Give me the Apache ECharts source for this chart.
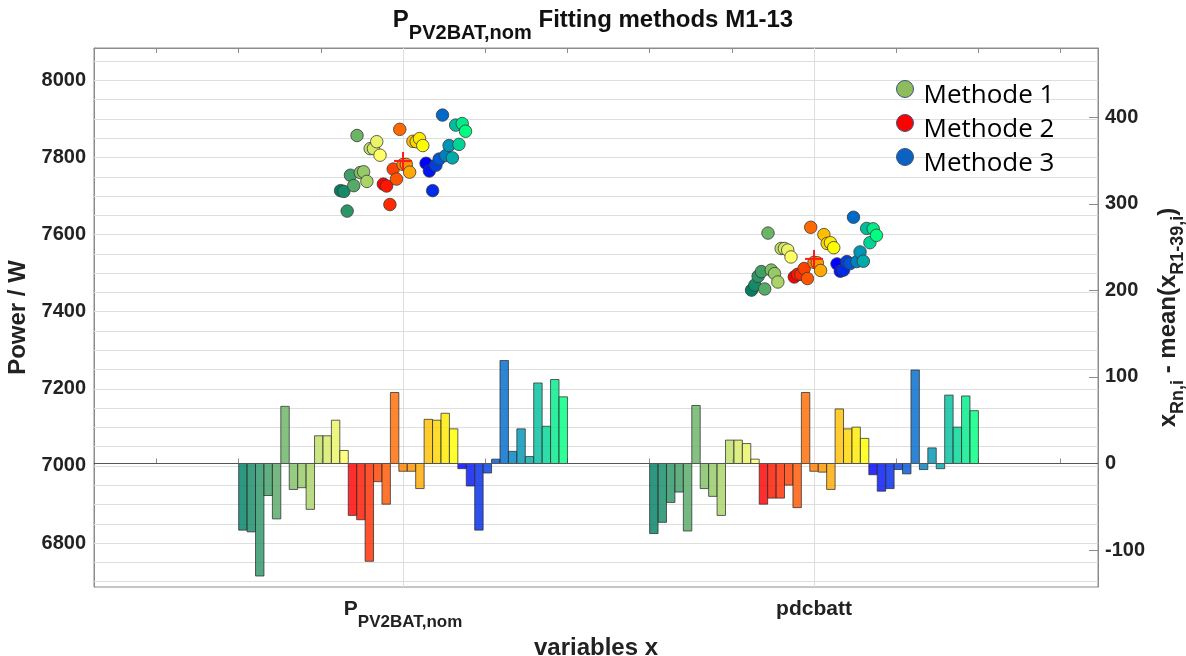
<!DOCTYPE html>
<html><head><meta charset="utf-8">
<script src="https://cdn.jsdelivr.net/npm/echarts@6/dist/echarts.min.js"></script>
<style>html,body{margin:0;padding:0;background:#fff}#c{width:1186px;height:656px}</style>
</head><body><div id="c"></div>
<script>
// ---------------- data ----------------
const categories = ['P_PV2BAT,nom', 'pdcbatt'];
const methodNames = ['Methode 1', 'Methode 2', 'Methode 3'];
// mean over runs R1-39 (left axis, W)
const meanPower = [7791, 7537];
// deviation of each run from the mean (right axis), runs 1-13 method 1, 14-26 method 2, 27-39 method 3
const devPV2BAT = [-77, -79, -130, -37, -64, 66, -30, -28, -53, 32, 32, 50, 15,
                   -60, -65, -113, -21, -47, 82, -9, -9, -29, 51, 50, 58, 40,
                   -6, -26, -77, -11, 5, 119, 14, 40, 8, 93, 43, 97, 77];
const devPdcbatt = [-81, -68, -45, -33, -78, 67, -29, -38, -60, 27, 27, 23, 5,
                    -47, -40, -40, -25, -51, 82, -9, -10, -30, 63, 40, 42, 29,
                    -13, -32, -29, -7, -12, 108, -7, 18, -6, 79, 42, 78, 61];
const leftTicks = [6800, 7000, 7200, 7400, 7600, 7800, 8000];
const leftMinorTicks = [6700, 6750, 6800, 6850, 6900, 6950, 7000, 7050, 7100, 7150, 7200, 7250, 7300, 7350,
                        7400, 7450, 7500, 7550, 7600, 7650, 7700, 7750, 7800, 7850, 7900, 7950, 8000, 8050];
const rightTicks = [-100, 0, 100, 200, 300, 400];
const xTicks = [0.4, 0.6, 0.8, 1.0, 1.2, 1.4, 1.6, 1.8, 2.0, 2.2, 2.4, 2.6];
const xLabelPos = [1, 2];

// ---------------- styling helpers ----------------
const devs = [devPV2BAT, devPdcbatt];
const N = devPV2BAT.length;           // 39 runs
const BAR_W = 0.8 / N;
const PT_STEP = 0.008;
function cmap(i) {
  const m = Math.floor(i / 13), t = (i % 13) / 12;
  let c;
  if (m === 0) c = [t, 0.5 + 0.5 * t, 0.4];        // summer
  else if (m === 1) c = [1, t, 0];                 // autumn
  else c = [0, t, 1 - 0.5 * t];                    // winter
  return c.map(v => Math.round(v * 255));
}
function rgba(i, a) { const c = cmap(i); return 'rgba(' + c[0] + ',' + c[1] + ',' + c[2] + ',' + a + ')'; }

const FONT = 'Liberation Sans, Arial, sans-serif';
const AX = '#8c8c8c';

// bars
const barData = [];
devs.forEach((d, g) => d.forEach((v, i) => barData.push([g + 1 - 0.4 + (i + 0.5) * BAR_W, v, i])));

// scatter series per method
const scatterSeries = methodNames.map((name, m) => {
  const data = [];
  devs.forEach((d, g) => {
    for (let k = 0; k < 13; k++) {
      const i = m * 13 + k;
      data.push({ value: [g + 1 + (i - 19) * PT_STEP, meanPower[g] + d[i]], itemStyle: { color: rgba(i, 1) } });
    }
  });
  return {
    name: name, type: 'scatter', xAxisIndex: 0, yAxisIndex: 0, data: data,
    symbolSize: 12.5, z: 4,
    itemStyle: { borderColor: '#3a3a3a', borderWidth: 0.8, opacity: 1 }
  };
});

const legendColors = ['#8fbc5a', '#ff0000', '#0c62c0'];

const chart = echarts.init(document.getElementById('c'), null, { renderer: 'canvas' });
chart.setOption({
  animation: false,
  backgroundColor: '#fff',
  title: {
    text: '{p|P}{s|PV2BAT,nom}{p| Fitting methods M1-13}',
    left: 'center', top: 8, padding: 0,
    textStyle: {
      rich: {
        p: { fontFamily: FONT, fontSize: 24, fontWeight: 'bold', color: '#111', lineHeight: 26, verticalAlign: 'top' },
        s: { fontFamily: FONT, fontSize: 20, fontWeight: 'bold', color: '#111', lineHeight: 20, padding: [15, 0, 0, 0], verticalAlign: 'top' }
      }
    }
  },
  legend: methodNames.map((n, m) => ({
    data: [{ name: n, itemStyle: { color: legendColors[m], borderColor: '#3a557e', borderWidth: 1 } }],
    left: 896, top: 69 + 34 * m, orient: 'vertical', padding: 0,
    itemWidth: 17, itemHeight: 17, icon: 'circle', selectedMode: false,
    formatter: s => '{t|' + s + '}',
    textStyle: {
      rich: { t: { fontFamily: 'Open Sans', fontSize: 26, color: '#000', lineHeight: 26, padding: [14, 0, 0, 5] } }
    }
  })),
  grid: { left: 94, right: 88, top: 48, bottom: 69, show: true, borderColor: AX, borderWidth: 1, backgroundColor: '#fff', outerBoundsMode: 'none', containLabel: false },
  xAxis: [
    {
      type: 'value', min: 0.248, max: 2.691, position: 'bottom',
      axisLine: { show: true, lineStyle: { color: AX } },
      axisTick: { show: true, inside: true, length: 5, customValues: xTicks, lineStyle: { color: AX } },
      splitLine: { show: false },
      axisLabel: {
        customValues: xLabelPos, margin: 12,
        formatter: v => (Math.round(v) === 1 ? '{p|P}{s|PV2BAT,nom}' : '{p|' + categories[1] + '}'),
        rich: {
          p: { fontFamily: FONT, fontSize: 21, fontWeight: 'bold', color: '#222', lineHeight: 22, verticalAlign: 'top' },
          s: { fontFamily: FONT, fontSize: 17, fontWeight: 'bold', color: '#222', lineHeight: 17, padding: [15, 0, 0, 0], verticalAlign: 'top' }
        }
      },
      name: 'variables x', nameLocation: 'middle', nameGap: 46,
      nameTextStyle: { fontFamily: FONT, fontSize: 24, fontWeight: 'bold', color: '#222' }
    },
    {
      type: 'value', min: 0.248, max: 2.691, position: 'top',
      axisLine: { show: true, lineStyle: { color: AX } },
      axisTick: { show: true, inside: true, length: 5, customValues: xTicks, lineStyle: { color: AX } },
      axisLabel: { show: false }, splitLine: { show: false }
    }
  ],
  yAxis: [
    {
      type: 'value', min: 6686, max: 8084, position: 'left',
      axisLine: { show: true, lineStyle: { color: AX } },
      axisTick: { show: true, inside: true, length: 9, customValues: leftTicks, lineStyle: { color: AX } },
      axisLabel: { customValues: leftTicks, margin: 8, formatter: v => String(v), fontFamily: FONT, fontSize: 20, fontWeight: 'bold', color: '#222' },
      splitLine: { show: false },
      name: 'Power / W', nameLocation: 'middle', nameGap: 62, nameRotate: 90,
      nameTextStyle: { fontFamily: FONT, fontSize: 24, fontWeight: 'bold', color: '#222' }
    },
    {
      type: 'value', min: -142.7, max: 480, position: 'right',
      axisLine: { show: true, lineStyle: { color: AX } },
      axisTick: { show: true, inside: true, length: 9, customValues: rightTicks, lineStyle: { color: AX } },
      axisLabel: { customValues: rightTicks, margin: 7, formatter: v => String(v), fontFamily: FONT, fontSize: 20, fontWeight: 'bold', color: '#222' },
      splitLine: { show: false },
      name: '{m|x}{s|Rn,i}{m| - mean(x}{s|R1-39,i}{m|)}', nameLocation: 'middle', nameGap: 56, nameRotate: 90,
      nameTextStyle: {
        rich: {
          m: { fontFamily: FONT, fontSize: 24, fontWeight: 'bold', color: '#222', lineHeight: 26, verticalAlign: 'top' },
          s: { fontFamily: FONT, fontSize: 18, fontWeight: 'bold', color: '#222', lineHeight: 18, padding: [13, 0, 0, 0], verticalAlign: 'top' }
        }
      }
    },
    {
      type: 'value', min: 6686, max: 8084, position: 'left',
      axisLine: { show: false },
      axisTick: { show: true, inside: true, length: 5, customValues: leftMinorTicks, lineStyle: { color: AX } },
      axisLabel: { show: false }, splitLine: { show: false }
    }
  ],
  series: [
    {
      type: 'custom', name: 'deviation', xAxisIndex: 0, yAxisIndex: 1, z: 2,
      data: barData, encode: { x: 0, y: 1 },
      renderItem: function (params, api) {
        const x = api.value(0), v = api.value(1), idx = api.value(2);
        const a = api.coord([x - BAR_W / 2, 0]);
        const b = api.coord([x + BAR_W / 2, v]);
        return {
          type: 'rect',
          shape: { x: a[0], y: Math.min(a[1], b[1]), width: b[0] - a[0], height: Math.abs(b[1] - a[1]) },
          style: { fill: rgba(idx, 0.82), stroke: 'rgba(45,45,45,0.75)', lineWidth: 1 }
        };
      },
      markLine: {
        silent: true, symbol: ['none', 'none'], label: { show: false }, z: 3,
        lineStyle: { color: '#555', width: 1, type: 'solid' },
        data: [{ yAxis: 0 }]
      }
    },
    ...scatterSeries,
    {
      type: 'custom', name: 'mean', xAxisIndex: 0, yAxisIndex: 0, z: 6,
      data: meanPower.map((v, g) => [g + 1, v]), encode: { x: 0, y: 1 },
      renderItem: function (params, api) {
        const p = api.coord([api.value(0), api.value(1)]);
        const h = 9;
        const st = { stroke: '#ff1a1a', lineWidth: 2 };
        return {
          type: 'group', children: [
            { type: 'line', shape: { x1: p[0] - h, y1: p[1], x2: p[0] + h, y2: p[1] }, style: st },
            { type: 'line', shape: { x1: p[0], y1: p[1] - h, x2: p[0], y2: p[1] + h }, style: st }
          ]
        };
      },
      markLine: {
        silent: true, symbol: ['none', 'none'], label: { show: false }, z: 1,
        lineStyle: { color: '#dedede', width: 1, type: 'solid' },
        data: leftMinorTicks.map(v => ({ yAxis: v })).concat(xLabelPos.map(v => ({ xAxis: v })))
      }
    }
  ]
});
</script>
</body></html>
